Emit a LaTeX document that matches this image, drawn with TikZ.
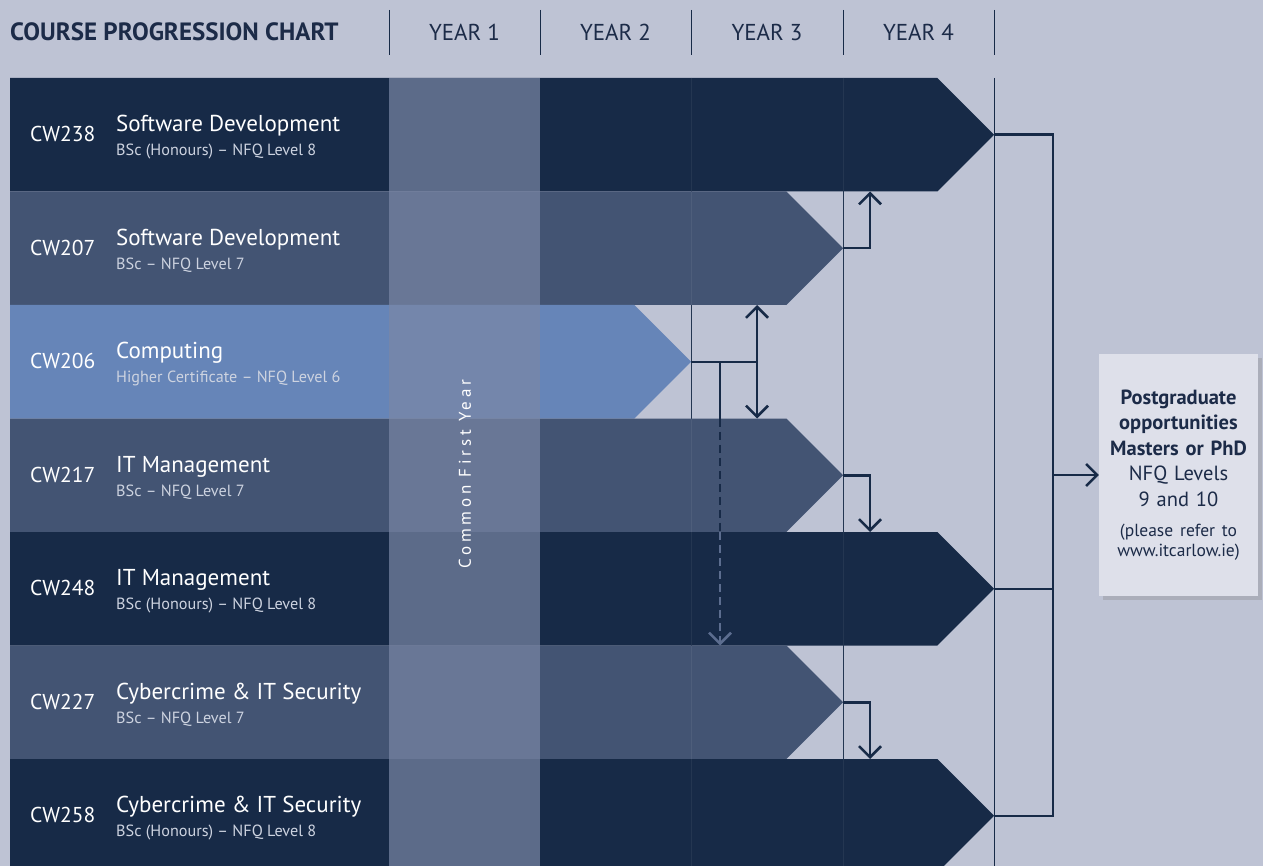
\documentclass[tikz,border=0pt]{standalone}
\usepackage{fontspec}
\setmainfont{PT Sans}
\usetikzlibrary{arrows.meta,shadows}

\definecolor{sfondo}{HTML}{BEC3D4}
\definecolor{scuro}{HTML}{172A47}
\definecolor{medio}{HTML}{435473}
\definecolor{chiaro}{HTML}{6685B8}
\definecolor{velo}{HTML}{7A87A6}
\definecolor{testoscuro}{HTML}{1C2B48}
\definecolor{grigiotesto}{HTML}{CDD3E0}
\definecolor{riquadro}{HTML}{DEE0EA}
\definecolor{tratteggio}{HTML}{5C6D8F}

\tikzset{
  codice/.style={anchor=base west, inner sep=0pt, text=white, font=\fontsize{21.5}{24}\selectfont},
  titolo/.style={anchor=base west, inner sep=0pt, text=white, font=\fontsize{23}{26}\selectfont},
  sottotitolo/.style={anchor=base west, inner sep=0pt, text=grigiotesto, font=\fontsize{16.2}{19}\selectfont},
  anno/.style={text=testoscuro, font=\fontsize{23}{26}\selectfont},
  griglia/.style={draw=scuro, line width=1pt},
  collegamento/.style={draw=scuro, line width=2.5pt},
  freccia/.style={collegamento, -{Straight Barb[length=11pt,width=22pt]}},
}

\begin{document}
\begin{tikzpicture}[x=1pt,y=-1pt]
    \fill[sfondo] (0,0) rectangle (1263,866); % sfondo
    \useasboundingbox (0,0) rectangle (1263,866);
    \clip (0,0) rectangle (1263,866);

    % intestazione
    \node[anchor=west, inner sep=0pt, text=testoscuro, font=\bfseries\fontsize{25}{28}\selectfont] (intest) at (10,32) {COURSE PROGRESSION CHART};
    \draw[griglia] (389,10) -- (389,55); % separatori degli anni
    \draw[griglia] (540,10) -- (540,55);
    \draw[griglia] (691,10) -- (691,55);
    \draw[griglia] (843,10) -- (843,55);
    \draw[griglia] (994,10) -- (994,55);
    \node[anno] (anno1) at (464.5,32) {YEAR 1};
    \node[anno] (anno2) at (615.5,32) {YEAR 2};
    \node[anno] (anno3) at (767,32) {YEAR 3};
    \node[anno] (anno4) at (918.5,32) {YEAR 4};

    % linee verticali dietro le righe
    \draw[griglia] (691,78) -- (691,866);
    \draw[griglia] (843,78) -- (843,866);
    \draw[griglia] (994,78) -- (994,866);

    % righe dei corsi
    \fill[scuro] (10,78) -- (937.25,78) -- (994,134.75) -- (937.25,191.5) -- (10,191.5) -- cycle; % CW238
    \fill[medio] (10,191.5) -- (786.25,191.5) -- (843,248.25) -- (786.25,305) -- (10,305) -- cycle; % CW207
    \fill[chiaro] (10,305) -- (634.25,305) -- (691,361.75) -- (634.25,418.5) -- (10,418.5) -- cycle; % CW206
    \fill[medio] (10,418.5) -- (786.25,418.5) -- (843,475.25) -- (786.25,532) -- (10,532) -- cycle; % CW217
    \fill[scuro] (10,532) -- (937.25,532) -- (994,588.75) -- (937.25,645.5) -- (10,645.5) -- cycle; % CW248
    \fill[medio] (10,645.5) -- (786.25,645.5) -- (843,702.25) -- (786.25,759) -- (10,759) -- cycle; % CW227
    \fill[scuro] (10,759) -- (937.25,759) -- (994,815.75) -- (937.25,872.5) -- (10,872.5) -- cycle; % CW258

    \draw[white, draw opacity=0.06, line width=1pt] (691,78) -- (691,866); % linee leggere sopra le righe
    \draw[white, draw opacity=0.06, line width=1pt] (843,78) -- (843,866);

    % punte delle frecce
    \coordinate (p238) at (994,134.75);
    \coordinate (p207) at (843,248.25);
    \coordinate (p206) at (691,361.75);
    \coordinate (p217) at (843,475.25);
    \coordinate (p248) at (994,588.75);
    \coordinate (p227) at (843,702.25);
    \coordinate (p258) at (994,815.75);

    % testi delle righe
    \node[codice] (c238) at (30,141.75) {CW238};
    \node[titolo] (t238) at (116,131.75) {Software Development};
    \node[sottotitolo] (s238) at (116,155.75) {BSc (Honours) – NFQ Level 8};
    \node[codice] (c207) at (30,255.25) {CW207};
    \node[titolo] (t207) at (116,245.25) {Software Development};
    \node[sottotitolo] (s207) at (116,269.25) {BSc – NFQ Level 7};
    \node[codice] (c206) at (30,368.75) {CW206};
    \node[titolo] (t206) at (116,358.75) {Computing};
    \node[sottotitolo] (s206) at (116,382.75) {Higher Certificate – NFQ Level 6};
    \node[codice] (c217) at (30,482.25) {CW217};
    \node[titolo] (t217) at (116,472.25) {IT Management};
    \node[sottotitolo] (s217) at (116,496.25) {BSc – NFQ Level 7};
    \node[codice] (c248) at (30,595.75) {CW248};
    \node[titolo] (t248) at (116,585.75) {IT Management};
    \node[sottotitolo] (s248) at (116,609.75) {BSc (Honours) – NFQ Level 8};
    \node[codice] (c227) at (30,709.25) {CW227};
    \node[titolo] (t227) at (116,699.25) {Cybercrime \& IT Security};
    \node[sottotitolo] (s227) at (116,723.25) {BSc – NFQ Level 7};
    \node[codice] (c258) at (30,822.75) {CW258};
    \node[titolo] (t258) at (116,812.75) {Cybercrime \& IT Security};
    \node[sottotitolo] (s258) at (116,836.75) {BSc (Honours) – NFQ Level 8};

    % primo anno comune
    \fill[velo, fill opacity=0.7] (389,78) rectangle (540,866);
    \node[rotate=90, text=white, font=\fontsize{17}{20}\selectfont\addfontfeature{LetterSpace=22}] (comune) at (465,474) {Common First Year};

    % collegamenti tra i corsi
    \coordinate (a207) at (870,191.5);
    \draw[freccia] (p207) -- (p207 -| a207) -- (a207);
    \coordinate (su206) at (757,305);
    \coordinate (giu206) at (757,418.5);
    \coordinate (tr206) at (720,645.5);
    \coordinate (mz206) at (720,532);
    \draw[collegamento] (p206) -- (p206 -| su206);
    \draw[collegamento, {Straight Barb[length=11pt,width=22pt]}-{Straight Barb[length=11pt,width=22pt]}] (su206) -- (giu206);
    \draw[collegamento] (p206 -| tr206) -- (tr206 |- giu206);
    \draw[collegamento, dash pattern=on 8pt off 5pt] (tr206 |- giu206) -- (mz206);
    \draw[freccia, draw=tratteggio, dash pattern=on 8pt off 5pt] (mz206) -- (tr206);
    \coordinate (a217) at (870,532);
    \draw[freccia] (p217) -- (p217 -| a217) -- (a217);
    \coordinate (a227) at (870,759);
    \draw[freccia] (p227) -- (p227 -| a227) -- (a227);

    % verso il riquadro finale
    \node[fill=riquadro, minimum width=159pt, minimum height=242pt, inner sep=0pt, text width=159pt, align=center, text=testoscuro,
          font=\fontsize{20.5}{25.5}\selectfont, drop shadow={shadow xshift=4pt, shadow yshift=-4pt, opacity=0.3}] (pg) at (1178.5,475)
        {\textbf{Postgraduate}\\ \textbf{opportunities}\\ \textbf{Masters or PhD}\\ NFQ Levels\\ 9 and 10\par\vspace{11pt}
         {\fontsize{17.5}{19.5}\selectfont (please refer to\\ www.itcarlow.ie)\par}};
    \coordinate (n238) at (1053,134.75);
    \coordinate (n258) at (1053,815.75);
    \draw[collegamento] (p238) -- (n238) -- (n258) -- (p258);
    \draw[collegamento] (p248) -- (p248 -| n238);
    \draw[freccia] (pg.west -| n238) -- (pg.west);
\end{tikzpicture}
\end{document}
